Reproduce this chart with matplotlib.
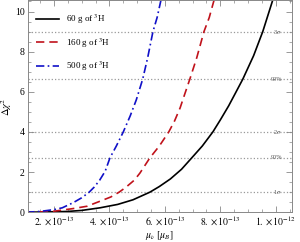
import matplotlib
matplotlib.use("Agg")
import matplotlib.pyplot as plt
from matplotlib.ticker import MultipleLocator
import numpy as np

plt.rcParams["font.family"] = ["Liberation Serif", "DejaVu Serif"]
plt.rcParams["mathtext.fontset"] = "stix"

# curves, mu in units of 1e-13 mu_B
mu_black = [1.0, 2.0, 2.5, 3.0, 3.66, 4.3, 4.85, 5.46, 5.8, 6.2, 6.6, 6.97, 7.35, 7.73,
            8.0, 8.3, 8.55, 8.81, 9.2, 9.53, 9.92]
chi_black = [0.0, 0.02, 0.04, 0.09, 0.22, 0.39, 0.62, 1.0, 1.28, 1.66, 2.14, 2.71, 3.3, 4.0,
             4.6, 5.3, 5.95, 6.63, 7.8, 9.0, 10.7]

mu_red = [1.0, 1.6, 2.0, 2.68, 3.2, 3.72, 4.05, 4.35, 4.6, 4.9, 5.1, 5.46, 5.8, 6.14, 6.35,
          6.55, 6.72, 6.9, 7.15, 7.41, 7.6, 7.8]
chi_red = [0.0, 0.02, 0.05, 0.18, 0.3, 0.58, 0.76, 1.0, 1.25, 1.6, 1.95, 2.71, 3.3, 4.0, 4.55,
           5.2, 5.9, 6.63, 7.7, 9.0, 9.7, 10.7]

mu_blue = [1.0, 1.5, 2.0, 2.3, 2.7, 3.0, 3.27, 3.45, 3.65, 3.85, 4.02, 4.25, 4.5, 4.75,
           4.97, 5.2, 5.38, 5.57, 5.72, 5.88]
chi_blue = [0.0, 0.04, 0.13, 0.22, 0.48, 0.72, 1.0, 1.25, 1.6, 2.05, 2.71, 3.3, 4.0, 4.8,
            5.6, 6.63, 7.7, 9.0, 9.7, 10.7]

labels = [r"60 g of $^3$H", r"160 g of $^3$H", r"500 g of $^3$H"]

levels = [1, 2.71, 4, 6.63, 9]
level_labels = [r"1$\sigma$", "90%", r"2$\sigma$", "99%", r"3$\sigma$"]

xticks = [2e-13, 4e-13, 6e-13, 8e-13, 1e-12]
xtick_labels = [r"$2.\times10^{-13}$", r"$4.\times10^{-13}$", r"$6.\times10^{-13}$",
                r"$8.\times10^{-13}$", r"$1.\times10^{-12}$"]

fig = plt.figure(figsize=(3.0, 2.42), dpi=100)
ax = fig.add_axes([0.092, 0.123, 0.88, 0.875])

for y, lab in zip(levels, level_labels):
    ax.axhline(y, color="#999999", ls=":", lw=0.9, zorder=1)
    ax.text(0.944, y, lab, transform=ax.get_yaxis_transform(), fontsize=4.5,
            color="#555555", ha="center", va="center", zorder=2)

ax.plot(np.array(mu_black) * 1e-13, chi_black, color="black", lw=1.2, label=labels[0])
ax.plot(np.array(mu_red) * 1e-13, chi_red, color="#c0121b", lw=1.2, ls=(0, (5, 3)), label=labels[1])
ax.plot(np.array(mu_blue) * 1e-13, chi_blue, color="#1010c8", lw=1.2, ls=(0, (5, 2, 1, 2)), label=labels[2])

ax.set_xlim(1.05e-13, 1.057e-12)
ax.set_ylim(0, 10.55)
ax.set_xticks(xticks)
ax.set_xticklabels(xtick_labels)
ax.xaxis.set_minor_locator(MultipleLocator(0.5e-13))
ax.set_yticks([0, 2, 4, 6, 8, 10])
ax.yaxis.set_minor_locator(MultipleLocator(0.5))

ax.tick_params(which="both", direction="in", top=True, right=True, color="#888888",
               labelsize=7, pad=2)
ax.tick_params(which="major", length=4, width=0.6)
ax.tick_params(which="minor", length=2, width=0.5)
for s in ax.spines.values():
    s.set_color("#888888")
    s.set_linewidth(0.7)

ax.set_xlabel(r"$\mu_\nu\ [\mu_B]$", fontsize=7)
ax.xaxis.set_label_coords(0.5, -0.08)
ax.set_ylabel(r"$\Delta\chi^2$", fontsize=7.5)
ax.yaxis.set_label_coords(-0.05, 0.5)

ax.legend(loc="upper left", frameon=False, fontsize=6.5, handlelength=2.6,
          labelspacing=1.1, bbox_to_anchor=(0.0, 0.98))

fig.savefig("out.png", dpi=100)
